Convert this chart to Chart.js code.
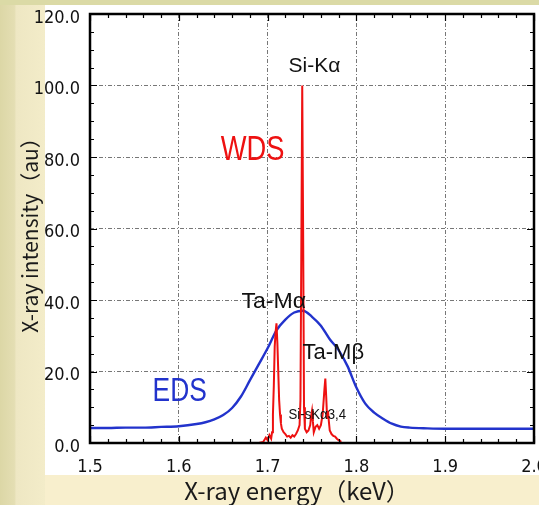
<!DOCTYPE html>
<html>
<head>
<meta charset="utf-8">
<script src="https://cdn.jsdelivr.net/npm/chart.js@4.4.0/dist/chart.umd.min.js"></script>
<style>
html, body { margin: 0; padding: 0; background: #f8efcd; }
canvas { display: block; }
</style>
</head>
<body>
<canvas id="myChart" width="539" height="505"></canvas>
<script>
// EDS spectrum (blue)
const edsEnergy = [1.50, 1.52, 1.54, 1.56, 1.58, 1.60, 1.62, 1.63, 1.64, 1.65, 1.66, 1.67, 1.68, 1.69, 1.70,
    1.71, 1.72, 1.73, 1.74, 1.75, 1.76, 1.77, 1.78, 1.79, 1.80, 1.81, 1.82, 1.83, 1.84, 1.85, 1.86, 1.88,
    1.90, 1.95, 2.00];
const edsCounts = [4.2, 4.2, 4.3, 4.3, 4.5, 4.7, 5.3, 5.8, 6.6, 7.8, 9.8, 13.0, 17.5, 22.0, 26.5,
    31.5, 34.5, 36.5, 37.0, 35.3, 32.8, 29.0, 26.0, 21.5, 15.5, 11.0, 8.5, 6.8, 5.4, 4.6, 4.3, 4.1,
    4.0, 4.0, 4.0];

// WDS spectrum (red)
const wdsEnergy = [1.690, 1.695, 1.698, 1.700, 1.702, 1.704, 1.705, 1.706, 1.707, 1.708, 1.709, 1.710,
    1.711, 1.712, 1.713, 1.714, 1.715, 1.716, 1.718, 1.720, 1.722, 1.724, 1.726, 1.728, 1.730, 1.732,
    1.734, 1.736, 1.737, 1.738, 1.739, 1.740, 1.741, 1.742, 1.744, 1.746, 1.748, 1.749, 1.750, 1.751,
    1.752, 1.754, 1.756, 1.758, 1.760, 1.762, 1.764, 1.765, 1.766, 1.767, 1.768, 1.769, 1.770, 1.772,
    1.774, 1.776, 1.778, 1.780, 1.783];
const wdsCounts = [0, 0.3, 1.5, 0.8, 2.2, 1.2, 3, 8, 16, 27, 31, 33.5,
    28, 20, 12, 8, 5.5, 4, 3, 2.5, 1.8, 2, 1.5, 2.2, 1.8, 2.5,
    3.5, 5, 12, 55, 100, 60, 10, 4, 3, 3.5, 5, 7.5, 9, 6,
    3, 4.5, 5, 4, 5, 8, 15, 18, 13, 7, 9, 6, 3.5, 2.5,
    2, 1.8, 1.2, 0.8, 0.3];

// peak labels
const noteText = ['Si-Kα', 'WDS', 'EDS', 'Ta-Mα', 'Ta-Mβ', 'Si-sKα3,4'];
const noteEnergy = [1.7528, 1.683, 1.601, 1.707, 1.774, 1.756];
const noteCounts = [105.5, 82.0, 14.3, 39.4, 25.2, 7.8];
const noteColor = ['#111', '#ee1111', '#2233cc', '#111', '#111', '#111'];
const noteSize = [21, 35, 33, 22, 22, 15];
const noteSquash = [1, 0.78, 0.8, 1.05, 1, 0.88];

const xMin = 1.5, xMax = 2.0, xStep = 0.1;
const yMin = 0, yMax = 120, yStep = 20;

const narrow = '"DejaVu Sans Condensed", "Liberation Sans", sans-serif';
const jp = '"Noto Sans CJK JP", "Noto Sans", sans-serif';

const decor = {
    id: 'decor',
    beforeDraw(chart) {
        const c = chart.ctx;
        c.save();
        c.fillStyle = '#f8efcd';
        c.fillRect(0, 0, 539, 505);
        let g = c.createLinearGradient(0, 0, 45, 0);
        g.addColorStop(0, '#dcd7a6');
        g.addColorStop(0.32, '#e4deb3');
        g.addColorStop(0.36, '#eee7c3');
        g.addColorStop(1, '#f3ecc9');
        c.fillStyle = g;
        c.fillRect(0, 0, 45, 505);
        c.fillStyle = '#dbdaa6';
        c.fillRect(0, 0, 539, 5);
        c.fillStyle = '#ffffff';
        c.fillRect(45, 5, 494, 470);
        c.restore();
    },
    afterDatasetsDraw(chart) {
        const c = chart.ctx;
        const a = chart.chartArea;
        const xs = chart.scales.x, ys = chart.scales.y;
        c.save();
        // frame
        c.strokeStyle = '#000';
        c.lineWidth = 2.5;
        c.strokeRect(a.left, a.top, a.right - a.left, a.bottom - a.top);
        // inner ticks
        c.lineWidth = 1.2;
        c.beginPath();
        for (let i = 0; i <= 25; i++) {
            const px = Math.round(xs.getPixelForValue(xMin + i * 0.02)) + 0.5;
            const len = i % 5 === 0 ? 7 : 4;
            c.moveTo(px, a.bottom); c.lineTo(px, a.bottom - len);
            c.moveTo(px, a.top); c.lineTo(px, a.top + len);
        }
        for (let i = 0; i <= 24; i++) {
            const py = Math.round(ys.getPixelForValue(yMin + i * 5)) + 0.5;
            const len = i % 4 === 0 ? 7 : 4;
            c.moveTo(a.left, py); c.lineTo(a.left + len, py);
            c.moveTo(a.right, py); c.lineTo(a.right - len, py);
        }
        c.stroke();
        // peak labels
        c.textAlign = 'center';
        c.textBaseline = 'middle';
        noteText.forEach((t, i) => {
            c.save();
            c.font = noteSize[i] + 'px "Liberation Sans", Arial, sans-serif';
            c.fillStyle = noteColor[i];
            c.translate(xs.getPixelForValue(noteEnergy[i]), ys.getPixelForValue(noteCounts[i]));
            c.scale(noteSquash[i], 1);
            c.fillText(t, 0, 0);
            c.restore();
        });
        // axis titles
        c.fillStyle = '#1a1a1a';
        c.font = '24px ' + jp;
        c.fillText('X-ray energy（keV）', 297, 491);
        c.translate(30, 230);
        c.rotate(-Math.PI / 2);
        c.font = '21px ' + jp;
        c.fillText('X-ray intensity（au）', 0, 0);
        c.restore();
    }
};

var ctx = document.getElementById('myChart').getContext('2d');

var chart = new Chart(ctx, {
    type: 'line',
    data: {
        datasets: [{
            label: 'WDS',
            data: wdsEnergy.map((e, i) => ({ x: e, y: wdsCounts[i] })),
            borderColor: '#ee1111',
            borderWidth: 2,
            pointRadius: 0,
            tension: 0,
            order: 0
        },
        {
            label: 'EDS',
            data: edsEnergy.map((e, i) => ({ x: e, y: edsCounts[i] })),
            borderColor: '#2233cc',
            borderWidth: 2.4,
            pointRadius: 0,
            cubicInterpolationMode: 'monotone',
            order: 1
        }]
    },
    options: {
        responsive: false,
        animation: false,
        devicePixelRatio: 1,
        layout: { padding: { top: 14, right: 5, left: 0, bottom: 0 } },
        plugins: { legend: { display: false }, tooltip: { enabled: false } },
        scales: {
            x: {
                type: 'linear',
                min: xMin, max: xMax,
                grid: { color: '#777', lineWidth: 1, drawTicks: false },
                border: { display: false, dash: [4, 2, 1, 2] },
                ticks: {
                    stepSize: xStep,
                    padding: 14,
                    color: '#111',
                    font: { family: narrow, size: 18 },
                    callback: v => v.toFixed(1)
                },
                afterFit: s => { s.height = 62; s.paddingLeft = 0; s.paddingRight = 0; }
            },
            y: {
                min: yMin, max: yMax,
                grid: { color: '#777', lineWidth: 1, drawTicks: false },
                border: { display: false, dash: [4, 2, 1, 2] },
                ticks: {
                    stepSize: yStep,
                    padding: 10,
                    labelOffset: 4,
                    color: '#111',
                    font: { family: narrow, size: 18 },
                    callback: v => v.toFixed(1)
                },
                afterFit: s => { s.width = 90; s.paddingTop = 0; s.paddingBottom = 0; }
            }
        }
    },
    plugins: [decor]
});
</script>
</body>
</html>
